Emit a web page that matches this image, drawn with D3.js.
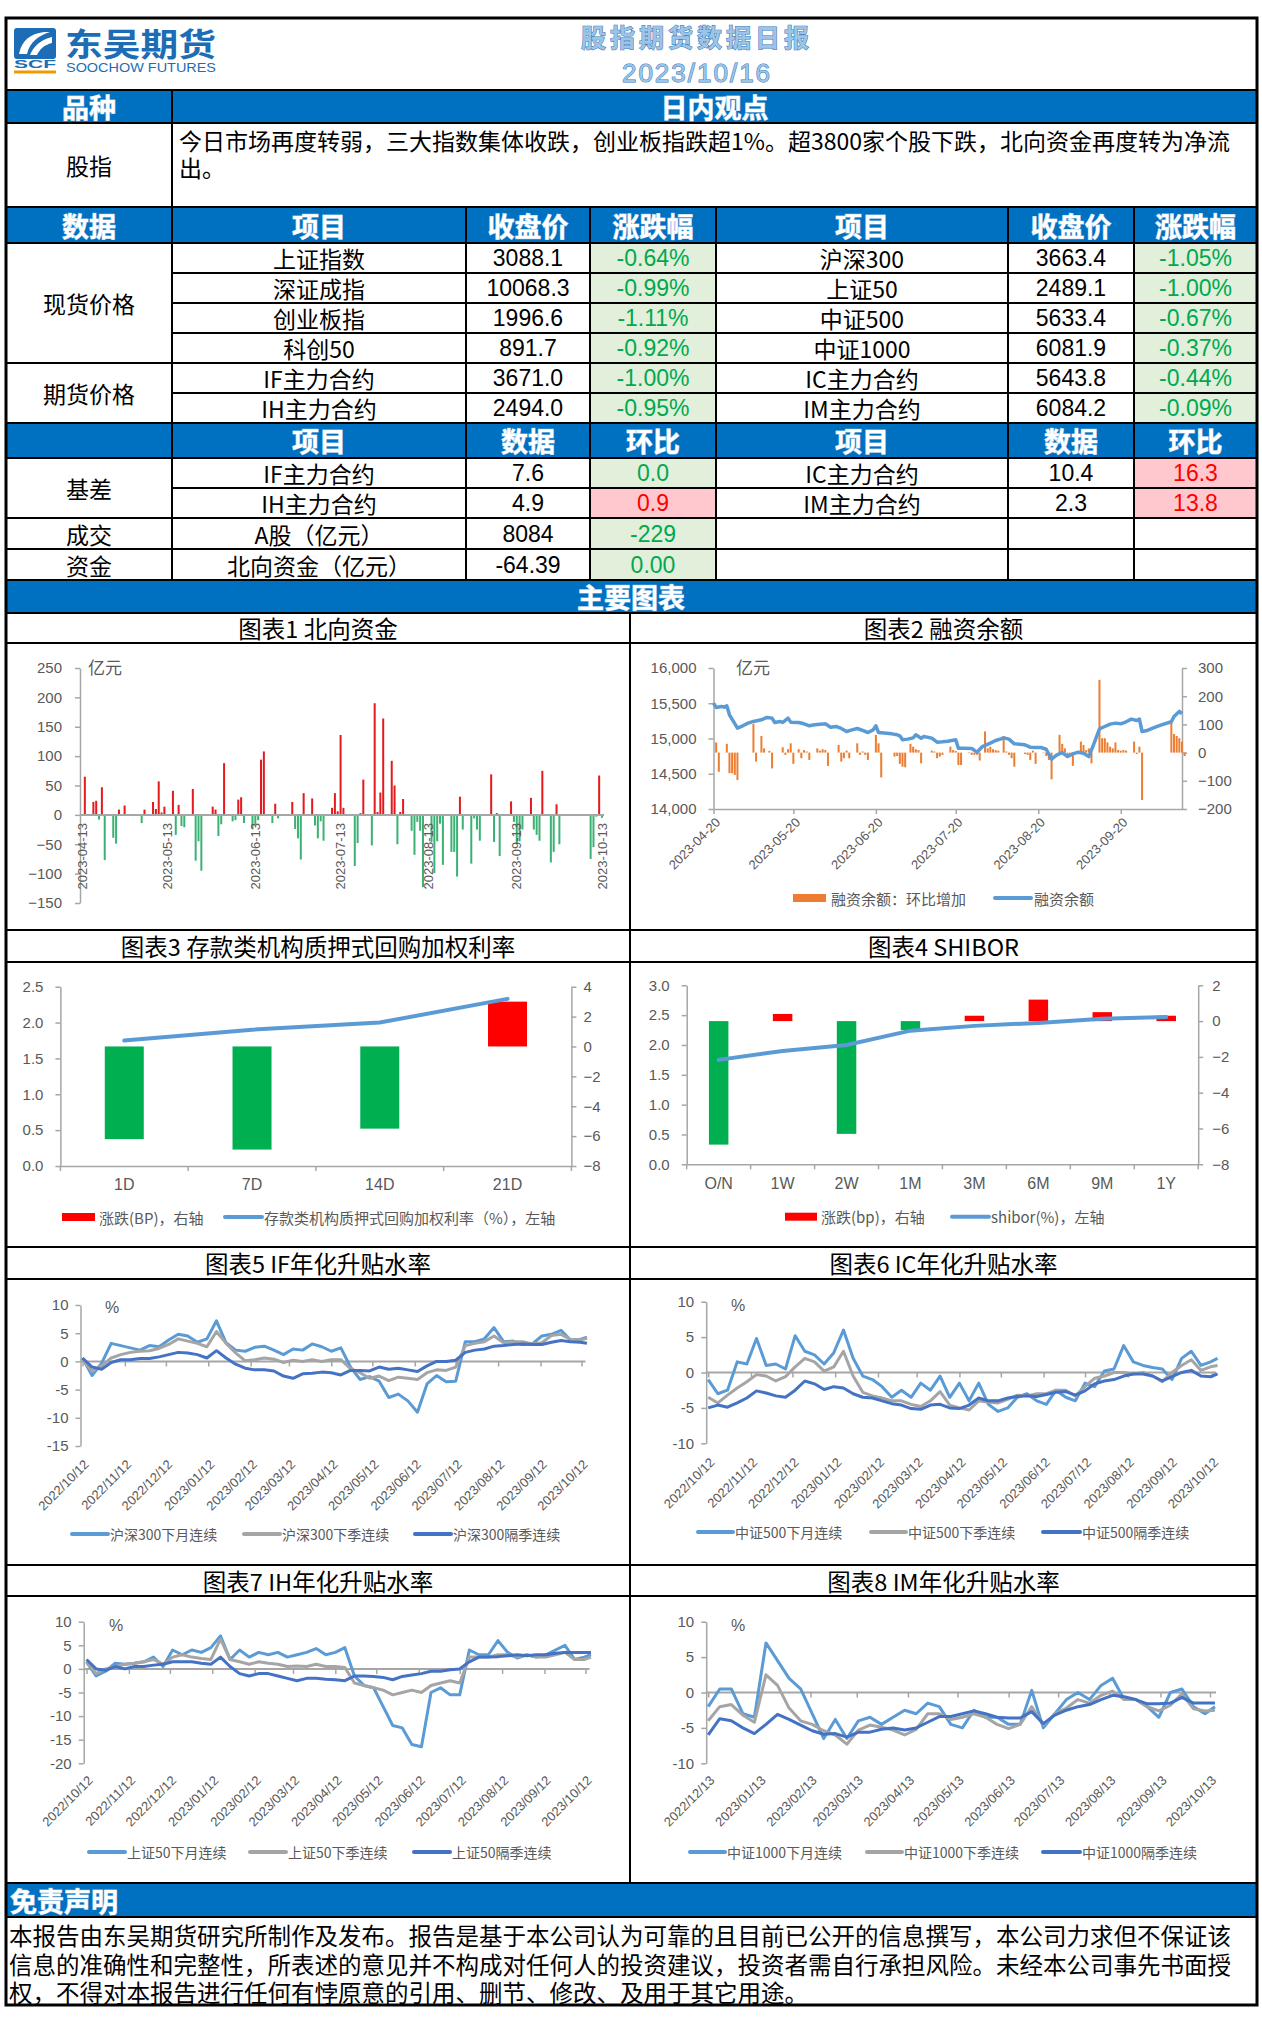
<!DOCTYPE html>
<html>
<head>
<meta charset="utf-8">
<title>股指期货数据日报</title>
<script src="https://cdn.jsdelivr.net/npm/d3@7"></script>
<style>
  body { margin: 0; background: #fff; }
  svg { display: block; }
</style>
</head>
<body>
<svg id="report" width="1262" height="2025"></svg>
<script>
"use strict";

// ---------- 表格数据 ----------
const reportTitle = '股指期货数据日报';
const reportDate = '2023/10/16';
const comment = ['今日市场再度转弱，三大指数集体收跌，创业板指跌超1%。超3800家个股下跌，北向资金再度转为净流', '出。'];

const priceHeads = ['数据', '项目', '收盘价', '涨跌幅', '项目', '收盘价', '涨跌幅'];
const basisHeads = ['', '项目', '数据', '环比', '项目', '数据', '环比'];

const spotItemsL = ['上证指数', '深证成指', '创业板指', '科创50'];
const spotCloseL = [3088.1, 10068.3, 1996.6, 891.7];
const spotPctL = [-0.64, -0.99, -1.11, -0.92];
const spotItemsR = ['沪深300', '上证50', '中证500', '中证1000'];
const spotCloseR = [3663.4, 2489.1, 5633.4, 6081.9];
const spotPctR = [-1.05, -1.00, -0.67, -0.37];

const futItemsL = ['IF主力合约', 'IH主力合约'];
const futCloseL = [3671.0, 2494.0];
const futPctL = [-1.00, -0.95];
const futItemsR = ['IC主力合约', 'IM主力合约'];
const futCloseR = [5643.8, 6084.2];
const futPctR = [-0.44, -0.09];

const basisItemsL = ['IF主力合约', 'IH主力合约'];
const basisL = [7.6, 4.9];
const basisChgL = [0.0, 0.9];
const basisItemsR = ['IC主力合约', 'IM主力合约'];
const basisR = [10.4, 2.3];
const basisChgR = [16.3, 13.8];

const turnover = ['A股（亿元）', 8084, -229];
const northbound = ['北向资金（亿元）', -64.39, 0.00];

const chartTitles = ['图表1  北向资金', '图表2  融资余额', '图表3  存款类机构质押式回购加权利率', '图表4  SHIBOR',
  '图表5  IF年化升贴水率', '图表6  IC年化升贴水率', '图表7  IH年化升贴水率', '图表8  IM年化升贴水率'];

const disclaimer = [
  '本报告由东吴期货研究所制作及发布。报告是基于本公司认为可靠的且目前已公开的信息撰写，本公司力求但不保证该',
  '信息的准确性和完整性，所表述的意见并不构成对任何人的投资建议，投资者需自行承担风险。未经本公司事先书面授',
  '权，不得对本报告进行任何有悖原意的引用、删节、修改、及用于其它用途。'
];

// ---------- 图表1 北向资金（亿元），2023年 ----------
const northDates = ['04-14','04-17','04-18','04-19','04-20','04-21','04-24','04-25','04-26','04-28',
  '05-04','05-05','05-08','05-09','05-10','05-11','05-12','05-15','05-16','05-17','05-18','05-19',
  '05-22','05-23','05-24','05-25','05-29','05-30','05-31','06-01','06-02','06-05','06-06','06-07',
  '06-08','06-09','06-12','06-13','06-14','06-15','06-16','06-19','06-20','06-21','06-26','06-27',
  '06-28','06-29','06-30','07-03','07-04','07-05','07-06','07-07','07-10','07-11','07-12','07-13',
  '07-14','07-18','07-19','07-20','07-21','07-24','07-25','07-26','07-27','07-28','07-31','08-01',
  '08-02','08-03','08-04','08-07','08-08','08-09','08-10','08-11','08-14','08-15','08-16','08-17',
  '08-18','08-21','08-22','08-23','08-24','08-25','08-28','08-29','08-30','08-31','09-04','09-05',
  '09-06','09-07','09-11','09-12','09-13','09-14','09-15','09-18','09-19','09-20','09-21','09-22',
  '09-25','09-26','09-27','09-28','10-09','10-10','10-11','10-12','10-13'];
const northFlow = [65,22,24,-8,47,-77,-39,-49,9,16,
  -14,9,22,10,57,4,14,41,-34,17,-19,-21,
  44,-78,-45,-95,14,9,-36,-16,88,-11,-9,26,
  30,-14,-23,-17,-9,94,108,-14,19,-6,22,-24,
  -40,-76,37,28,-18,-40,-11,-44,12,37,6,136,
  12,-87,-48,3,60,-52,190,5,38,164,92,50,
  -50,5,27,-27,-68,-12,-27,-123,-46,-99,-45,-15,
  -85,-63,-63,-105,31,-25,-83,-6,-25,-44,69,-46,
  3,-70,23,-12,-50,-45,-25,29,-25,-34,-44,75,
  -81,-63,18,-50,-75,-55,-3,67,-5];
const northTicks = [-150, -100, -50, 0, 50, 100, 150, 200, 250];
const northTickDates = ['04-13', '05-13', '06-13', '07-13', '08-13', '09-13', '10-13'];

// ---------- 图表2 融资余额（亿元），2023年 ----------
const marginDates = ['04-20','04-21','04-23','04-24','04-25','04-26','04-29','05-01','05-03','05-05',
  '05-08','05-10','05-12','05-13','05-15','05-16','05-18','05-19','05-22','05-24','05-26','05-28',
  '05-31','06-01','06-03','06-05','06-07','06-09','06-11','06-13','06-15','06-17','06-19','06-20',
  '06-21','06-24','06-26','06-28','06-29','06-30','07-02','07-04','07-05','07-07','07-08','07-11',
  '07-13','07-15','07-17','07-20','07-21','07-23','07-26','07-28','07-30','08-02','08-04','08-06',
  '08-07','08-09','08-11','08-13','08-15','08-17','08-19','08-21','08-23','08-25','08-27','08-29',
  '08-31','09-02','09-04','09-06','09-08','09-10','09-12','09-14','09-16','09-18','09-20','09-22',
  '09-24','09-26','09-27','09-28','09-30','10-02','10-05','10-09','10-10','10-12','10-13'];
const marginBal = [15502,15441,15455,15445,15464,15336,15147,15180,15218,15242,
  15265,15299,15289,15227,15242,15227,15289,15232,15227,15209,15180,15194,
  15204,15209,15161,15171,15142,15099,15123,15142,15114,15085,15123,15180,
  15085,15076,15066,15052,15038,14981,14991,15009,15052,15005,15028,15005,
  14948,14953,14962,14981,14863,14863,14858,14806,14886,14934,14972,14995,
  15009,14991,14924,14919,14910,14877,14872,14872,14848,14706,14768,14801,
  14744,14782,14806,14791,14744,14934,15137,15170,15204,15218,15209,15237,
  15275,15256,15275,15099,15114,15147,15189,15237,15313,15384,15351];
const marginChgDates = ['04-21','04-22','04-25','04-26','04-27','04-28','04-29','05-05','05-06','05-08',
  '05-09','05-11','05-12','05-16','05-17','05-18','05-19','05-20','05-22','05-23','05-24','05-25',
  '05-26','05-29','05-30','05-31','06-01','06-02','06-06','06-07','06-08','06-09','06-10','06-13',
  '06-14','06-15','06-16','06-17','06-20','06-21','06-22','06-27','06-28','06-29','06-30','07-01',
  '07-03','07-04','07-05','07-06','07-07','07-11','07-12','07-13','07-14','07-15','07-18','07-19',
  '07-20','07-21','07-22','07-25','07-26','07-27','07-28','07-29','07-31','08-01','08-02','08-03',
  '08-04','08-05','08-07','08-08','08-09','08-10','08-11','08-15','08-16','08-17','08-18','08-19',
  '08-22','08-23','08-24','08-25','08-28','08-29','08-30','08-31','09-01','09-02','09-05','09-06',
  '09-07','09-08','09-09','09-12','09-13','09-14','09-15','09-16','09-17','09-18','09-19','09-20',
  '09-21','09-22','09-25','09-26','09-27','09-28','10-09','10-10','10-11','10-12','10-13','10-14'];
const marginChg = [36,-68,31,-73,-73,-79,-97,102,-32,59,
  15,6,-56,19,-8,12,33,-40,12,-20,9,4,
  -26,15,7,12,9,-47,27,-32,-20,7,-20,33,
  -8,4,-8,-26,63,33,-88,-14,-12,-40,-50,-52,
  31,21,12,9,-38,7,4,-20,-14,-8,21,9,
  6,-44,-44,-2,-8,-8,-8,-28,75,15,21,12,
  9,7,59,4,-8,-20,-50,-5,-8,-26,7,-40,
  -2,-12,-26,-95,63,31,15,-14,-8,-47,39,27,
  9,15,-38,258,51,51,36,21,15,36,9,7,
  9,7,39,-5,21,-168,116,66,59,51,39,-12];
const marginTicksL = [14000, 14500, 15000, 15500, 16000];
const marginTicksR = [-200, -100, 0, 100, 200, 300];
const marginTickDates = ['04-20', '05-20', '06-20', '07-20', '08-20', '09-20'];

// ---------- 图表3 存款类机构质押式回购加权利率 ----------
const repoTerms = ['1D', '7D', '14D', '21D'];
const repoRate = [1.75, 1.90, 2.00, 2.33];
const repoChg = [-6.2, -6.9, -5.5, 3.0];
const repoTicksL = [0, 0.5, 1.0, 1.5, 2.0, 2.5];
const repoTicksR = [-8, -6, -4, -2, 0, 2, 4];

// ---------- 图表4 SHIBOR ----------
const shiborTerms = ['O/N', '1W', '2W', '1M', '3M', '6M', '9M', '1Y'];
const shiborRate = [1.75, 1.90, 2.00, 2.24, 2.32, 2.37, 2.44, 2.47];
const shiborChg = [-6.9, 0.4, -6.3, -0.5, 0.3, 1.2, 0.5, 0.3];
const shiborTicksL = [0, 0.5, 1.0, 1.5, 2.0, 2.5, 3.0];
const shiborTicksR = [-8, -6, -4, -2, 0, 2];

// ---------- 图表5-7 年化升贴水率（%），按周读数 ----------
const weekDates = ['2022-10-12','2022-10-19','2022-10-26','2022-11-02','2022-11-09','2022-11-16','2022-11-23','2022-11-30',
  '2022-12-07','2022-12-14','2022-12-21','2022-12-28','2023-01-04','2023-01-11','2023-01-18','2023-01-25','2023-02-01',
  '2023-02-08','2023-02-15','2023-02-22','2023-03-01','2023-03-08','2023-03-15','2023-03-22','2023-03-29','2023-04-05',
  '2023-04-12','2023-04-19','2023-04-26','2023-05-03','2023-05-10','2023-05-17','2023-05-24','2023-05-31','2023-06-07',
  '2023-06-14','2023-06-21','2023-06-28','2023-07-05','2023-07-12','2023-07-19','2023-07-26','2023-08-02','2023-08-09',
  '2023-08-16','2023-08-23','2023-08-30','2023-09-06','2023-09-13','2023-09-20','2023-09-27','2023-10-04','2023-10-11',
  '2023-10-16'];
const yearTickDates = ['2022-10-12','2022-11-12','2022-12-12','2023-01-12','2023-02-12','2023-03-12','2023-04-12',
  '2023-05-12','2023-06-12','2023-07-12','2023-08-12','2023-09-12','2023-10-12'];

const if300Month = [0.6,-2.5,-0.3,3.2,2.8,2.4,2.0,2.8,2.6,3.8, 4.8,4.5,3.4,4.0,7.2,3.3,2.0,1.8,2.5,2.7,
  2.0,1.2,2.2,2.0,3.1,2.6,1.8,2.4,-1.0,-3.2, -2.7,-3.5,-6.4,-5.8,-7.0,-9.0,-4.0,-2.5,-3.6,-3.5,
  3.5,3.5,4.0,6.0,3.5,3.6,3.0,3.1,4.5,4.8, 5.5,3.8,3.9,4.3];
const if300Quarter = [0.3,-1.7,-0.8,0.6,1.2,1.6,1.8,1.9,2.3,3.0, 4.0,3.6,3.2,2.6,5.3,3.2,1.5,0.1,0.3,0.6,
  0.4,-0.2,0.2,0.0,0.3,0.0,0.3,0.3,-1.3,-2.0, -3.0,-2.6,-3.4,-2.8,-3.0,-3.2,-2.0,-1.5,-1.6,-1.0,
  2.8,3.2,3.5,4.5,3.3,3.5,3.5,3.1,3.3,4.6, 4.8,3.9,3.8,4.1];
const if300Next = [0.6,-1.0,-1.4,-0.2,0.3,0.3,0.5,0.5,0.8,1.2, 1.6,1.5,1.2,0.6,1.9,0.6,-0.5,-1.2,-1.5,-1.5,
  -1.7,-2.6,-3.0,-2.2,-2.1,-1.9,-2.0,-2.4,-1.6,-1.6, -1.7,-1.0,-1.4,-1.2,-1.5,-1.8,-0.8,0.0,0.0,0.2,
  1.6,2.0,2.2,2.7,2.8,3.0,3.1,3.0,3.0,3.4, 3.7,3.5,3.4,3.2];

const ic500Month = [-1.0,-3.0,-2.5,1.5,1.2,4.8,1.0,1.2,0.5,5.2, 3.0,2.5,1.2,2.8,6.0,2.0,-0.5,-1.0,-2.0,-3.5,
  -2.5,-3.5,-1.5,-2.5,-0.5,-3.5,-1.5,-4.0,-1.5,-4.5, -5.5,-5.0,-3.5,-3.0,-4.0,-4.5,-2.5,-3.5,-4.0,-1.5,
  -2.0,0.2,0.5,3.8,1.5,1.0,0.7,0.5,-1.0,2.0, 3.0,1.0,1.5,2.0];
const ic500Quarter = [-3.5,-4.3,-3.2,-2.2,-1.3,-0.3,-0.5,-1.2,-0.6,0.8, 2.0,1.5,0.2,0.8,3.0,-0.5,-2.8,-3.3,-3.6,-4.0,
  -4.0,-4.5,-4.8,-4.0,-2.7,-4.6,-5.0,-5.3,-4.0,-4.2, -4.3,-3.8,-3.2,-3.3,-3.0,-3.0,-2.5,-2.5,-3.3,-2.0,
  -0.8,-0.5,0.0,0.0,-0.2,0.0,-0.5,-1.3,0.0,1.0, 1.8,0.3,0.8,1.0];
const ic500Next = [-5.0,-4.6,-4.9,-4.3,-3.6,-2.6,-2.9,-3.3,-3.5,-2.5, -1.2,-1.6,-2.4,-2.0,-2.2,-3.0,-3.5,-3.6,-4.0,-4.4,
  -4.6,-5.1,-5.2,-4.6,-4.5,-5.0,-5.1,-4.6,-3.6,-4.0, -4.0,-3.6,-3.4,-3.3,-3.4,-3.1,-2.8,-2.7,-3.2,-2.6,
  -1.6,-1.2,-1.0,-0.5,-0.2,-0.2,-0.5,-1.2,-0.6,0.0, 0.3,-0.5,-0.6,-0.2];

const ih50Month = [1.5,-1.5,-0.5,1.2,1.0,1.2,1.5,2.5,0.5,4.0, 3.0,4.0,3.5,4.5,7.0,2.0,4.0,2.5,3.5,3.0,
  3.5,2.5,3.0,3.5,4.3,3.0,3.5,4.5,-1.5,-3.5, -4.0,-8.0,-12.0,-12.5,-16.0,-16.5,-5.0,-4.0,-5.5,-5.5,
  4.0,3.0,3.0,6.0,3.5,2.3,3.0,2.5,3.0,4.0, 5.0,2.0,2.5,3.0];
const ih50Quarter = [1.5,-1.0,0.0,0.5,1.0,1.2,1.5,2.0,1.0,2.5, 3.0,2.5,2.2,2.0,6.3,2.0,1.5,1.0,1.5,1.2,
  1.0,0.5,0.6,0.5,1.0,0.5,0.5,0.3,-3.0,-3.5, -4.0,-4.5,-5.5,-5.0,-4.5,-5.0,-3.5,-3.0,-2.5,-3.0,
  2.5,2.5,2.5,3.0,3.0,2.5,3.0,2.5,2.5,3.0, 3.5,2.0,2.0,2.5];
const ih50Next = [2.0,0.0,-0.3,0.5,0.0,0.5,0.5,0.8,1.0,1.5, 1.5,1.5,1.2,1.0,2.5,0.5,-1.0,-1.5,-1.0,-1.0,
  -1.5,-2.0,-2.5,-2.0,-2.0,-2.2,-2.3,-2.5,-1.5,-1.5, -1.6,-1.8,-2.3,-1.6,-1.3,-1.0,-0.5,-0.5,-0.2,0.0,
  1.5,2.5,2.5,2.6,2.8,3.0,2.8,3.0,3.0,3.3, 3.5,3.5,3.5,3.5];

// ---------- 图表8 IM年化升贴水率（%），按周读数 ----------
const imDates = ['2022-12-13','2022-12-20','2022-12-27','2023-01-03','2023-01-10','2023-01-17','2023-01-24','2023-01-31',
  '2023-02-07','2023-02-14','2023-02-21','2023-02-28','2023-03-07','2023-03-14','2023-03-21','2023-03-28','2023-04-04',
  '2023-04-11','2023-04-18','2023-04-25','2023-05-02','2023-05-09','2023-05-16','2023-05-23','2023-05-30','2023-06-06',
  '2023-06-13','2023-06-20','2023-06-27','2023-07-04','2023-07-11','2023-07-18','2023-07-25','2023-08-01','2023-08-08',
  '2023-08-15','2023-08-22','2023-08-29','2023-09-05','2023-09-12','2023-09-19','2023-09-26','2023-10-03','2023-10-10',
  '2023-10-16'];
const imTickDates = ['2022-12-13','2023-01-13','2023-02-13','2023-03-13','2023-04-13','2023-05-13','2023-06-13',
  '2023-07-13','2023-08-13','2023-09-13','2023-10-13'];
const im1000Month = [-2.0,0.5,0.5,-3.0,-3.5,7.0,4.5,2.0,0.5,-3.0, -6.5,-3.8,-6.5,-4.0,-3.5,-4.5,-3.5,-2.5,-3.0,-1.5,
  -2.0,-4.5,-5.0,-2.5,-3.5,-3.5,-4.5,-4.5,0.3,-5.0, -3.0,-1.0,0.0,-1.0,1.0,2.0,-1.0,-1.0,-2.0,-3.5,
  0.0,0.5,-2.0,-3.0,-2.0];
const im1000Quarter = [-4.0,-2.0,-1.7,-3.2,-4.2,2.5,1.0,-2.2,-4.0,-4.5, -5.4,-6.0,-7.3,-5.3,-4.6,-4.9,-5.3,-6.0,-5.2,-3.0,
  -3.0,-3.8,-3.5,-3.0,-3.5,-4.5,-5.1,-4.5,-2.0,-4.6, -3.0,-2.2,-1.0,-1.5,-0.4,0.2,-1.0,-1.0,-2.0,-2.6,
  -1.8,-0.2,-2.3,-2.6,-2.5];
const im1000Next = [-6.0,-3.7,-4.0,-5.0,-5.8,-4.5,-3.1,-3.8,-4.6,-5.4, -5.9,-5.8,-6.3,-5.6,-5.6,-5.2,-5.0,-5.3,-5.0,-4.2,
  -3.4,-3.4,-3.0,-2.6,-3.0,-3.5,-3.6,-3.6,-2.7,-4.4, -3.2,-2.5,-2.0,-1.7,-1.0,-0.4,-0.6,-1.0,-1.6,-1.6,
  -1.5,-0.7,-1.5,-1.5,-1.5];

// ---------- 样式 ----------
const svg = d3.select('#report');
const BLUE = '#0070C0';
const AXIS = '#A6A6A6';
const TICK = '#595959';
const SANS = '"Liberation Sans", "Noto Sans CJK SC", sans-serif';
const CJK = '"Noto Sans CJK SC", "Liberation Sans", sans-serif';
const LINE_COLORS = ['#5B9BD5', '#A5A5A5', '#4472C4'];
const parse = d3.timeParse('%Y-%m-%d');
const d23 = s => parse('2023-' + s);

const label = (g, x, y, str, o = {}) => g.append('text')
  .attr('x', x).attr('y', y)
  .attr('text-anchor', o.anchor || 'middle')
  .attr('dominant-baseline', 'central')
  .attr('font-family', o.family || CJK)
  .attr('font-size', o.size || 23)
  .attr('font-weight', o.weight || 400)
  .attr('fill', o.fill || '#000')
  .text(str);

const cell = (x0, x1, y0, y1, fill) => svg.append('rect')
  .attr('x', x0).attr('y', y0).attr('width', x1 - x0).attr('height', y1 - y0)
  .attr('fill', fill || '#fff').attr('stroke', '#000').attr('stroke-width', 2);

const headText = (x, y, str, anchor) => label(svg, x, y, str, { size: 27, weight: 700, fill: '#fff', anchor })
  .attr('stroke', '#9DC3E6').attr('stroke-width', 1).attr('paint-order', 'stroke');

const styleAxis = (g, size) => {
  g.attr('font-family', SANS).attr('font-size', size || 15);
  g.select('.domain').attr('stroke', AXIS).attr('stroke-width', 1.5);
  g.selectAll('.tick line').attr('stroke', AXIS).attr('stroke-width', 1.5);
  g.selectAll('.tick text').attr('fill', TICK);
  return g;
};

// ---------- 报头 ----------
cell(6, 1257, 18, 90);
const logo = svg.append('g');
logo.append('rect').attr('x', 14).attr('y', 28).attr('width', 42).attr('height', 31).attr('rx', 3).attr('fill', '#1C6DB5');
logo.append('path').attr('d', 'M19 54 C22 40 30 34 44 32 L50 32 C38 36 30 42 27 54 Z').attr('fill', '#fff');
logo.append('path').attr('d', 'M30 55 C34 46 40 40 52 37 L52 43 C44 45 40 49 37 55 Z').attr('fill', '#fff');
logo.append('text').attr('x', 14).attr('y', 68).attr('font-family', SANS).attr('font-weight', 700)
  .attr('font-size', 11).attr('fill', '#1C6DB5').attr('textLength', 42).attr('lengthAdjust', 'spacingAndGlyphs').text('SCF');
logo.append('rect').attr('x', 14).attr('y', 70.5).attr('width', 42).attr('height', 3).attr('fill', '#F39800');
label(logo, 65, 42, '东吴期货', { anchor: 'start', size: 32, weight: 700, fill: '#1C6DB5' })
  .attr('textLength', 151).attr('lengthAdjust', 'spacingAndGlyphs');
label(logo, 66, 68, 'SOOCHOW FUTURES', { anchor: 'start', size: 12, fill: '#1C6DB5', family: SANS })
  .attr('textLength', 150).attr('lengthAdjust', 'spacingAndGlyphs');

label(svg, 697, 36, reportTitle, { size: 25, weight: 700, fill: '#9DC3E6' })
  .attr('stroke', '#2E75B6').attr('stroke-width', 1).attr('paint-order', 'stroke').attr('letter-spacing', 4);
label(svg, 697, 73, reportDate, { size: 26, fill: '#9DC3E6', family: SANS })
  .attr('stroke', '#2E75B6').attr('stroke-width', 1).attr('paint-order', 'stroke').attr('letter-spacing', 2);

// ---------- 表格 ----------
const colX = [6, 172, 466, 590, 716, 1008, 1134, 1257];
const mid = i => (colX[i] + colX[i + 1]) / 2;

cell(6, 172, 90, 123, BLUE); cell(172, 1257, 90, 123, BLUE);
headText(mid(0), 106, '品种'); headText((172 + 1257) / 2, 106, '日内观点');
cell(6, 172, 123, 207); cell(172, 1257, 123, 207);
label(svg, mid(0), 165, '股指');
comment.forEach((t, i) => label(svg, 179, 140 + i * 27, t, { anchor: 'start', size: 23 }));

const headRow = (y0, y1, names) => names.forEach((n, i) => {
  cell(colX[i], colX[i + 1], y0, y1, BLUE);
  if (n) headText(mid(i), (y0 + y1) / 2, n);
});

const chgCell = (i, y0, y1, v, str) => {
  const up = v > 0;
  cell(colX[i], colX[i + 1], y0, y1, up ? '#FFC7CE' : '#E2EFDA');
  label(svg, mid(i), (y0 + y1) / 2, str, { fill: up ? '#FF0000' : '#00A84F', size: 23, family: SANS });
};

const itemRow = (c, y0, y1, name, val, chg, fv, fc) => {
  cell(colX[c], colX[c + 1], y0, y1); label(svg, mid(c), (y0 + y1) / 2, name);
  cell(colX[c + 1], colX[c + 2], y0, y1); label(svg, mid(c + 1), (y0 + y1) / 2, fv(val), { size: 23, family: SANS });
  chgCell(c + 2, y0, y1, chg, fc(chg));
};

headRow(207, 243, priceHeads);
const rowY = [243, 273, 303, 333, 363, 393, 423];
const pct = v => v.toFixed(2) + '%';
const one = v => v.toFixed(1);
const leftPrice = spotItemsL.concat(futItemsL);
const leftClose = spotCloseL.concat(futCloseL);
const leftPct = spotPctL.concat(futPctL);
const rightPrice = spotItemsR.concat(futItemsR);
const rightClose = spotCloseR.concat(futCloseR);
const rightPct = spotPctR.concat(futPctR);
leftPrice.forEach((n, i) => {
  itemRow(1, rowY[i], rowY[i + 1], n, leftClose[i], leftPct[i], one, pct);
  itemRow(4, rowY[i], rowY[i + 1], rightPrice[i], rightClose[i], rightPct[i], one, pct);
});
cell(6, 172, 243, 363); label(svg, mid(0), 303, '现货价格');
cell(6, 172, 363, 423); label(svg, mid(0), 393, '期货价格');

headRow(423, 458, basisHeads);
const rowY2 = [458, 488, 518, 549, 580];
basisItemsL.forEach((n, i) => {
  itemRow(1, rowY2[i], rowY2[i + 1], n, basisL[i], basisChgL[i], one, one);
  itemRow(4, rowY2[i], rowY2[i + 1], basisItemsR[i], basisR[i], basisChgR[i], one, one);
});
cell(6, 172, 458, 518); label(svg, mid(0), 488, '基差');
itemRow(1, 518, 549, turnover[0], turnover[1], turnover[2], String, String);
itemRow(1, 549, 580, northbound[0], northbound[1], northbound[2], v => v.toFixed(2), v => v.toFixed(2));
cell(6, 172, 518, 549); label(svg, mid(0), 533.5, '成交');
cell(6, 172, 549, 580); label(svg, mid(0), 564.5, '资金');
[[518, 549], [549, 580]].forEach(([a, b]) => [4, 5, 6].forEach(i => cell(colX[i], colX[i + 1], a, b)));

// ---------- 图表框架 ----------
cell(6, 1257, 580, 613, BLUE); headText(631, 596.5, '主要图表');
const titleRows = [[613, 643], [930, 962], [1247, 1279], [1565, 1596]];
const panelRows = [[643, 930], [962, 1247], [1279, 1565], [1596, 1883]];
titleRows.forEach(([a, b], r) => {
  cell(6, 630, a, b); cell(630, 1257, a, b);
  label(svg, 318, (a + b) / 2, chartTitles[r * 2], { size: 23.5 });
  label(svg, 943.5, (a + b) / 2, chartTitles[r * 2 + 1], { size: 23.5 });
});
panelRows.forEach(([a, b]) => { cell(6, 630, a, b); cell(630, 1257, a, b); });

// ---------- 图表1 北向资金 ----------
{
  const g = svg.append('g');
  const x = d3.scaleTime().domain([d23('04-13'), d23('10-13')]).range([82, 602]);
  const y = d3.scaleLinear().domain([-150, 250]).range([903, 668]);
  styleAxis(g.append('g').attr('transform', 'translate(80,0)')
    .call(d3.axisLeft(y).tickValues(northTicks).tickSize(5).tickSizeOuter(0).tickPadding(13)));
  g.selectAll('rect.nb').data(northDates.map((d, i) => ({ d: d23(d), v: northFlow[i] })))
    .join('rect').attr('class', 'nb')
    .attr('x', d => x(d.d) - 1).attr('width', 2)
    .attr('y', d => y(Math.max(0, d.v))).attr('height', d => Math.abs(y(d.v) - y(0)))
    .attr('fill', d => d.v >= 0 ? '#E41A1C' : '#3BB273');
  g.append('line').attr('x1', 80).attr('x2', 604).attr('y1', y(0)).attr('y2', y(0))
    .attr('stroke', AXIS).attr('stroke-width', 2);
  northTickDates.forEach(s => {
    const tx = x(d23(s));
    g.append('text').attr('transform', `translate(${tx},823) rotate(-90)`)
      .attr('text-anchor', 'end').attr('dominant-baseline', 'central')
      .attr('font-family', SANS).attr('font-size', 13).attr('fill', TICK).text('2023-' + s);
  });
  label(g, 88, 666, '亿元', { anchor: 'start', size: 17, fill: TICK });
}

// ---------- 图表2 融资余额 ----------
{
  const g = svg.append('g');
  const x = d3.scaleTime().domain([d23('04-20'), d23('10-13')]).range([713.5, 1182]);
  const yL = d3.scaleLinear().domain([14000, 16000]).range([809, 668]);
  const yR = d3.scaleLinear().domain([-200, 300]).range([809, 668]);
  styleAxis(g.append('g').attr('transform', 'translate(713.5,0)')
    .call(d3.axisLeft(yL).tickValues(marginTicksL).tickSize(5).tickSizeOuter(0).tickPadding(12).tickFormat(d3.format(','))));
  styleAxis(g.append('g').attr('transform', 'translate(1182,0)')
    .call(d3.axisRight(yR).tickValues(marginTicksR).tickSize(5).tickSizeOuter(0).tickPadding(11)));
  styleAxis(g.append('g').attr('transform', 'translate(0,809)')
    .call(d3.axisBottom(x).tickValues(marginTickDates.map(d23)).tickSize(5).tickSizeOuter(0).tickFormat(d3.timeFormat('%Y-%m-%d'))), 13)
    .selectAll('.tick text')
    .attr('text-anchor', 'end').attr('dy', null).attr('y', 0).attr('x', 0)
    .attr('transform', 'translate(4,11) rotate(-45)').attr('dominant-baseline', 'central');
  g.selectAll('rect.mc').data(marginChgDates.map((d, i) => ({ d: d23(d), v: marginChg[i] })))
    .join('rect').attr('class', 'mc')
    .attr('x', d => x(d.d) - 1).attr('width', 2)
    .attr('y', d => yR(Math.max(0, d.v))).attr('height', d => Math.abs(yR(d.v) - yR(0)))
    .attr('fill', '#ED7D31');
  g.append('path').datum(marginDates.map((d, i) => ({ d: d23(d), v: marginBal[i] })))
    .attr('d', d3.line().x(d => x(d.d)).y(d => yL(d.v)))
    .attr('fill', 'none').attr('stroke', '#5B9BD5').attr('stroke-width', 3.5).attr('stroke-linejoin', 'round');
  label(g, 736, 666, '亿元', { anchor: 'start', size: 17, fill: TICK });
  g.append('rect').attr('x', 793).attr('y', 894).attr('width', 33).attr('height', 8).attr('fill', '#ED7D31');
  label(g, 831, 898, '融资余额：环比增加', { anchor: 'start', size: 15, fill: TICK });
  g.append('line').attr('x1', 995).attr('x2', 1031).attr('y1', 898).attr('y2', 898)
    .attr('stroke', '#5B9BD5').attr('stroke-width', 4).attr('stroke-linecap', 'round');
  label(g, 1034, 898, '融资余额', { anchor: 'start', size: 15, fill: TICK });
}

// ---------- 图表3/4 柱线组合 ----------
function barLineChart(cfg) {
  const g = svg.append('g');
  const x = d3.scaleBand().domain(cfg.cats).range([cfg.x0, cfg.x1]);
  const yL = d3.scaleLinear().domain(cfg.domL).range([cfg.yBottom, cfg.yTop]);
  const yR = d3.scaleLinear().domain(cfg.domR).range([cfg.yBottom, cfg.yTop]);
  styleAxis(g.append('g').attr('transform', `translate(${cfg.x0},0)`)
    .call(d3.axisLeft(yL).tickValues(cfg.ticksL).tickSize(5).tickSizeOuter(0).tickPadding(cfg.padL).tickFormat(d3.format('.1f'))));
  styleAxis(g.append('g').attr('transform', `translate(${cfg.x1},0)`)
    .call(d3.axisRight(yR).tickValues(cfg.ticksR).tickSize(5).tickSizeOuter(0).tickPadding(cfg.padR)));
  styleAxis(g.append('g').attr('transform', `translate(0,${cfg.yBottom})`)
    .call(d3.axisBottom(x).tickSize(0).tickPadding(13)), 16);
  cfg.cats.concat([null]).forEach(c => {
    const bx = c === null ? cfg.x1 : x(c);
    g.append('line').attr('x1', bx).attr('x2', bx).attr('y1', cfg.yBottom).attr('y2', cfg.yBottom + 5)
      .attr('stroke', AXIS).attr('stroke-width', 1.5);
  });
  const bw = cfg.barW;
  g.selectAll('rect.bar').data(cfg.cats.map((c, i) => ({ c, v: cfg.chg[i] })))
    .join('rect').attr('class', 'bar')
    .attr('x', d => x(d.c) + (x.bandwidth() - bw) / 2).attr('width', bw)
    .attr('y', d => yR(Math.max(0, d.v))).attr('height', d => Math.abs(yR(d.v) - yR(0)))
    .attr('fill', d => d.v >= 0 ? '#FF0000' : '#00B050');
  g.append('path').datum(cfg.cats.map((c, i) => ({ c, v: cfg.rate[i] })))
    .attr('d', d3.line().x(d => x(d.c) + x.bandwidth() / 2).y(d => yL(d.v)))
    .attr('fill', 'none').attr('stroke', '#5B9BD5').attr('stroke-width', 4).attr('stroke-linecap', 'round');
  const ly = cfg.legendY;
  g.append('rect').attr('x', cfg.leg[0]).attr('y', ly - 4).attr('width', cfg.leg[1] - cfg.leg[0]).attr('height', 8).attr('fill', '#FF0000');
  label(g, cfg.leg[1] + 4, ly, cfg.legText[0], { anchor: 'start', size: 15, fill: TICK });
  g.append('line').attr('x1', cfg.leg[2]).attr('x2', cfg.leg[3]).attr('y1', ly).attr('y2', ly)
    .attr('stroke', '#5B9BD5').attr('stroke-width', 4).attr('stroke-linecap', 'round');
  label(g, cfg.leg[3] + 2, ly, cfg.legText[1], { anchor: 'start', size: 15, fill: TICK });
}

barLineChart({
  cats: repoTerms, rate: repoRate, chg: repoChg, x0: 60.4, x1: 571.4, yTop: 986.7, yBottom: 1166,
  domL: [0, 2.5], domR: [-8, 4], ticksL: repoTicksL, ticksR: repoTicksR, padL: 12, padR: 7, barW: 39,
  legendY: 1217, leg: [62, 95, 225, 262], legText: ['涨跌(BP)，右轴', '存款类机构质押式回购加权利率（%），左轴']
});
barLineChart({
  cats: shiborTerms, rate: shiborRate, chg: shiborChg, x0: 686.7, x1: 1198.2, yTop: 985.3, yBottom: 1164.3,
  domL: [0, 3], domR: [-8, 2], ticksL: shiborTicksL, ticksR: shiborTicksR, padL: 12, padR: 9, barW: 19.5,
  legendY: 1216.7, leg: [785, 817, 952, 989], legText: ['涨跌(bp)，右轴', 'shibor(%)，左轴']
});

// ---------- 图表5-8 年化升贴水率 ----------
function basisChart(cfg) {
  const g = svg.append('g');
  const x = d3.scaleTime().domain([parse(cfg.ticks[0]), parse(cfg.ticks[cfg.ticks.length - 1])]).range(cfg.range);
  const y = d3.scaleLinear().domain(cfg.yDomain).range(cfg.yRange);
  styleAxis(g.append('g').attr('transform', `translate(${cfg.axisX},0)`)
    .call(d3.axisLeft(y).tickValues(cfg.yTicks).tickSize(5).tickSizeOuter(0).tickPadding(7).tickFormat(d => String(d))));
  const zero = g.append('g').attr('transform', `translate(0,${y(0)})`)
    .call(d3.axisBottom(x).tickValues(cfg.ticks.map(parse)).tickSize(5).tickSizeOuter(0).tickFormat(''));
  styleAxis(zero);
  zero.select('.domain').attr('d', `M${cfg.axisX},0H${cfg.endX}`).attr('stroke-width', 2);
  cfg.ticks.forEach(s => {
    const tx = x(parse(s));
    g.append('text').attr('transform', `translate(${tx + 4},${cfg.labelY}) rotate(-45)`)
      .attr('text-anchor', 'end').attr('dominant-baseline', 'central')
      .attr('font-family', SANS).attr('font-size', 13).attr('fill', TICK).text(s.replace(/-/g, '/'));
  });
  label(g, cfg.pct[0], cfg.pct[1], '%', { anchor: 'start', size: 16, fill: TICK, family: SANS });
  cfg.series.forEach((vals, k) => {
    g.append('path').datum(vals)
      .attr('d', d3.line().x((d, i) => x(parse(cfg.dates[i]))).y(d => y(d)))
      .attr('fill', 'none').attr('stroke', LINE_COLORS[k]).attr('stroke-width', 3).attr('stroke-linejoin', 'round');
  });
  cfg.names.forEach((n, k) => {
    const [a, b] = cfg.legend[k];
    g.append('line').attr('x1', a).attr('x2', b).attr('y1', cfg.legendY).attr('y2', cfg.legendY)
      .attr('stroke', LINE_COLORS[k]).attr('stroke-width', 4).attr('stroke-linecap', 'round');
    label(g, b + 2, cfg.legendY, n, { anchor: 'start', size: 14, fill: TICK });
  });
}

basisChart({
  ticks: yearTickDates, dates: weekDates, range: [82.5, 581.5], axisX: 80.5, endX: 585.5,
  yDomain: [-15, 10], yRange: [1446, 1305], yTicks: [-15, -10, -5, 0, 5, 10], labelY: 1462, pct: [105, 1307],
  series: [if300Month, if300Quarter, if300Next], names: ['沪深300下月连续', '沪深300下季连续', '沪深300隔季连续'],
  legend: [[72, 108], [244, 280], [415, 451]], legendY: 1534
});
basisChart({
  ticks: yearTickDates, dates: weekDates, range: [708.2, 1212], axisX: 706.2, endX: 1216,
  yDomain: [-10, 10], yRange: [1443.3, 1301.7], yTicks: [-10, -5, 0, 5, 10], labelY: 1460, pct: [731, 1305],
  series: [ic500Month, ic500Quarter, ic500Next], names: ['中证500下月连续', '中证500下季连续', '中证500隔季连续'],
  legend: [[698, 733], [871, 906], [1043, 1080]], legendY: 1532
});
basisChart({
  ticks: yearTickDates, dates: weekDates, range: [86.5, 585.5], axisX: 83.7, endX: 589.5,
  yDomain: [-20, 10], yRange: [1763.3, 1621.7], yTicks: [-20, -15, -10, -5, 0, 5, 10], labelY: 1778, pct: [109, 1625],
  series: [ih50Month, ih50Quarter, ih50Next], names: ['上证50下月连续', '上证50下季连续', '上证50隔季连续'],
  legend: [[89, 125], [250, 286], [414, 450]], legendY: 1852
});
basisChart({
  ticks: imTickDates, dates: imDates, range: [708.2, 1210], axisX: 706.2, endX: 1216,
  yDomain: [-10, 10], yRange: [1763.3, 1621.7], yTicks: [-10, -5, 0, 5, 10], labelY: 1778, pct: [731, 1625],
  series: [im1000Month, im1000Quarter, im1000Next], names: ['中证1000下月连续', '中证1000下季连续', '中证1000隔季连续'],
  legend: [[690, 725], [867, 902], [1043, 1080]], legendY: 1852
});

// ---------- 免责声明 ----------
cell(6, 1257, 1883, 1917, BLUE);
headText(10, 1900, '免责声明', 'start');
cell(6, 1257, 1917, 2005);
disclaimer.forEach((t, i) => label(svg, 9, 1935 + i * 28.5, t, { anchor: 'start', size: 23.5 }));

svg.append('rect').attr('x', 6).attr('y', 18).attr('width', 1251).attr('height', 1987)
  .attr('fill', 'none').attr('stroke', '#000').attr('stroke-width', 3);
</script>
</body>
</html>
